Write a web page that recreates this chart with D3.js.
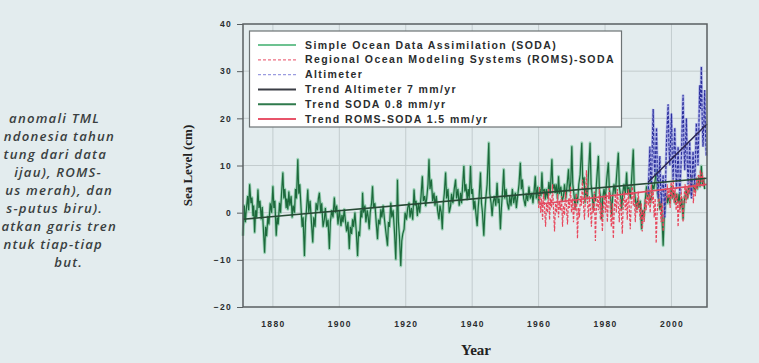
<!DOCTYPE html>
<html>
<head>
<meta charset="utf-8">
<script src="https://cdn.jsdelivr.net/npm/d3@7"></script>
<style>
  html, body { margin: 0; padding: 0; background: #e3ecee; overflow: hidden; }
  svg { display: block; }
</style>
</head>
<body>
<div id="chart"></div>
<script>
// visible part of the caption on the left (the rest is outside the photo)
const captionLines = [
  'anomali TML',
  'ndonesia tahun',
  'tung dari data',
  'ijau), ROMS-',
  'us merah), dan',
  's-putus biru).',
  'atkan garis tren',
  'ntuk tiap-tiap',
  'but.'
];
const captionRight = [100, 115, 107, 102, 113, 103, 117, 103, 83];

const xTicks = [1880, 1900, 1920, 1940, 1960, 1980, 2000];
const yTicks = [-20, -10, 0, 10, 20, 30, 40];

const legendLabels = [
  'Simple Ocean Data Assimilation (SODA)',
  'Regional Ocean Modeling Systems (ROMS)-SODA',
  'Altimeter',
  'Trend Altimeter 7 mm/yr',
  'Trend SODA 0.8 mm/yr',
  'Trend ROMS-SODA 1.5 mm/yr'
];

// [year, sea level cm]
const soda = [
  [1871.0,-4.9],[1871.4,1.5],[1871.7,-2.0],[1872.0,0.7],[1872.4,3.5],[1872.7,0.5],[1873.0,6.0],[1873.4,2.0],[1873.7,3.2],
  [1874.0,-0.7],[1874.2,1.5],[1874.5,-4.2],[1874.8,0.5],[1875.1,-1.0],[1875.5,4.9],[1875.8,1.0],[1876.1,2.5],[1876.5,-1.4],
  [1876.8,1.2],[1877.1,-3.0],[1877.5,-8.5],[1877.8,-3.0],[1878.1,-5.0],[1878.5,-0.7],[1878.8,-2.5],[1879.2,2.0],[1879.6,0.0],
  [1880.0,5.6],[1880.3,1.0],[1880.6,2.5],[1881.0,-4.9],[1881.3,-1.0],[1881.6,-2.5],[1882.0,2.1],[1882.3,0.0],[1882.6,4.0],
  [1883.0,8.5],[1883.3,3.0],[1883.6,5.0],[1884.0,1.0],[1884.2,3.0],[1884.5,0.7],[1884.8,4.5],[1885.1,1.5],[1885.5,3.5],
  [1885.8,-1.0],[1886.1,1.5],[1886.5,0.0],[1886.8,5.0],[1887.1,3.0],[1887.5,11.3],[1887.8,4.0],[1888.1,6.0],[1888.5,0.7],
  [1888.8,-3.0],[1889.1,-1.0],[1889.5,-9.2],[1889.8,-2.0],[1890.1,0.5],[1890.5,4.9],[1890.8,0.0],[1891.2,2.5],[1891.6,-2.0],
  [1892.0,-6.3],[1892.3,-1.0],[1892.7,-3.0],[1893.0,2.0],[1893.4,0.5],[1893.7,3.0],[1894.0,4.2],[1894.4,0.0],[1894.7,2.0],
  [1895.1,-3.0],[1895.5,-1.4],[1895.8,1.0],[1896.2,-3.0],[1896.6,-1.5],[1897.0,-7.7],[1897.3,-2.0],[1897.7,0.5],[1898.1,-1.0],
  [1898.5,3.2],[1898.8,0.0],[1899.2,1.5],[1899.6,-2.5],[1900.0,0.5],[1900.5,-2.8],[1900.8,-0.5],[1901.1,-2.0],[1901.5,0.7],
  [1901.8,-1.5],[1902.2,-4.0],[1902.6,-2.0],[1903.0,-7.7],[1903.3,-3.0],[1903.7,-4.5],[1904.0,-1.4],[1904.3,-3.0],[1904.7,0.0],
  [1905.1,-4.0],[1905.5,-9.2],[1905.8,-4.0],[1906.1,-5.0],[1906.5,0.5],[1906.8,-1.0],[1907.0,4.2],[1907.3,0.0],[1907.7,1.5],
  [1908.0,-2.0],[1908.4,0.5],[1908.7,-1.0],[1909.0,-3.5],[1909.3,0.0],[1909.7,2.0],[1910.0,5.6],[1910.3,1.0],[1910.7,2.0],
  [1911.1,-2.0],[1911.5,-5.6],[1911.8,-1.5],[1912.2,-2.5],[1912.5,0.7],[1912.8,-1.0],[1913.2,1.5],[1913.6,-1.5],[1914.0,-4.0],
  [1914.5,-7.0],[1914.8,-2.0],[1915.1,-3.0],[1915.5,2.1],[1915.8,-1.0],[1916.2,0.5],[1916.6,-4.0],[1917.0,-9.9],[1917.3,-1.0],
  [1917.5,7.0],[1917.8,-2.0],[1918.1,-5.0],[1918.5,-11.3],[1918.8,-6.0],[1919.1,-4.5],[1919.5,-3.5],[1919.8,0.0],[1920.2,-1.5],
  [1920.6,1.0],[1921.0,2.1],[1921.3,-1.0],[1921.7,1.0],[1922.1,-1.5],[1922.5,4.9],[1922.8,1.5],[1923.1,2.5],[1923.5,-0.7],
  [1923.8,2.0],[1924.2,0.0],[1924.6,3.5],[1925.0,7.7],[1925.3,2.5],[1925.7,3.5],[1926.0,1.4],[1926.3,3.0],[1926.7,6.0],
  [1927.0,11.3],[1927.3,5.0],[1927.7,7.0],[1928.1,2.5],[1928.5,4.2],[1928.8,1.5],[1929.2,3.5],[1929.6,0.5],[1930.0,-1.4],
  [1930.3,1.5],[1930.7,0.0],[1931.0,-3.5],[1931.3,2.0],[1931.6,4.0],[1932.0,8.5],[1932.3,3.0],[1932.7,5.0],[1933.1,0.0],
  [1933.5,1.4],[1933.8,4.0],[1934.2,2.0],[1934.6,5.0],[1935.0,7.0],[1935.3,3.0],[1935.7,5.0],[1936.1,1.5],[1936.5,4.2],
  [1936.8,2.0],[1937.1,5.5],[1937.5,9.9],[1937.8,4.5],[1938.1,6.0],[1938.5,2.8],[1938.8,5.0],[1939.1,3.0],[1939.5,9.9],
  [1939.8,4.0],[1940.1,5.0],[1940.5,0.7],[1940.8,2.5],[1941.1,0.0],[1941.5,-2.8],[1941.8,1.0],[1942.1,3.5],[1942.5,8.5],
  [1942.8,2.0],[1943.1,0.0],[1943.5,-4.9],[1943.8,0.0],[1944.1,3.0],[1944.5,6.0],[1945.0,14.8],[1945.3,4.0],[1945.7,2.0],
  [1946.0,-0.7],[1946.3,2.0],[1946.7,3.5],[1947.1,1.5],[1947.5,6.3],[1947.8,2.0],[1948.1,3.0],[1948.5,-3.5],[1948.8,1.0],
  [1949.1,4.0],[1949.5,9.2],[1949.8,3.0],[1950.2,5.0],[1950.6,2.0],[1951.0,0.7],[1951.3,3.5],[1951.7,1.5],[1952.1,5.0],
  [1952.5,2.0],[1953.0,4.2],[1953.3,1.0],[1953.7,3.5],[1954.1,6.0],[1954.5,10.6],[1954.8,5.0],[1955.1,7.0],[1955.5,3.0],
  [1956.0,1.4],[1956.3,4.0],[1956.7,2.5],[1957.1,5.5],[1957.5,3.0],[1958.0,4.2],[1958.3,2.0],[1958.7,5.0],[1959.0,7.7],
  [1959.3,3.0],[1959.7,5.5],[1960.0,2.0],[1960.4,5.0],[1960.7,3.5],[1961.0,8.5],[1961.3,4.0],[1961.7,5.0],[1962.0,2.8],
  [1962.3,5.0],[1962.7,3.0],[1963.1,6.5],[1963.5,4.0],[1964.0,11.3],[1964.3,5.0],[1964.7,6.0],[1965.0,4.2],[1965.3,6.0],
  [1965.7,3.0],[1966.0,7.7],[1966.3,4.0],[1966.7,5.5],[1967.1,2.5],[1967.5,3.5],[1967.8,6.0],[1968.2,3.0],[1968.6,6.0],
  [1969.0,9.2],[1969.3,4.5],[1969.7,6.5],[1970.0,14.1],[1970.3,6.0],[1970.7,3.5],[1971.0,0.7],[1971.3,4.0],[1971.7,2.0],
  [1972.1,6.0],[1972.5,8.0],[1973.0,14.8],[1973.3,6.0],[1973.7,7.5],[1974.0,2.1],[1974.3,5.0],[1974.7,3.0],[1975.0,8.0],
  [1975.5,14.8],[1975.8,6.0],[1976.1,4.0],[1976.5,0.7],[1976.8,4.0],[1977.1,2.5],[1977.5,7.0],[1978.0,12.0],[1978.3,5.0],
  [1978.7,3.0],[1979.0,-1.4],[1979.3,3.0],[1979.7,5.0],[1980.1,3.0],[1980.5,7.0],[1981.0,10.6],[1981.3,5.0],[1981.7,3.0],
  [1982.0,-0.7],[1982.3,3.5],[1982.7,6.0],[1983.1,4.0],[1983.5,8.0],[1984.0,12.7],[1984.3,5.5],[1984.7,3.5],[1985.0,0.7],
  [1985.3,4.0],[1985.7,6.0],[1986.1,4.0],[1986.5,8.5],[1986.8,4.0],[1987.2,5.5],[1987.6,3.0],[1988.0,7.0],[1988.5,13.4],
  [1988.8,5.0],[1989.1,3.0],[1989.5,0.7],[1989.8,3.0],[1990.2,1.0],[1990.6,2.5],[1991.0,-3.5],[1991.3,0.5],[1991.7,-1.0],
  [1992.1,2.5],[1992.5,5.6],[1992.8,3.0],[1993.2,5.0],[1993.6,2.0],[1994.0,3.5],[1994.3,6.0],[1994.7,5.0],[1995.1,7.0],
  [1995.5,9.2],[1995.8,4.0],[1996.2,3.0],[1996.5,0.7],[1996.8,2.5],[1997.1,0.0],[1997.5,-7.0],[1997.8,-1.0],[1998.1,1.5],
  [1998.5,4.2],[1998.8,2.0],[1999.1,3.5],[1999.5,2.0],[2000.0,5.6],[2000.3,3.0],[2000.7,4.5],[2001.1,2.0],[2001.5,4.0],
  [2002.0,2.1],[2002.3,4.0],[2002.7,1.0],[2003.1,3.0],[2003.5,-1.4],[2003.8,2.0],[2004.1,3.5],[2004.5,4.9],[2004.8,3.0],
  [2005.2,5.5],[2005.6,4.0],[2006.0,7.7],[2006.3,4.5],[2006.7,6.0],[2007.1,4.5],[2007.5,6.3],[2007.8,5.0],[2008.2,7.5],
  [2008.6,5.5],[2009.0,9.9],[2009.3,6.0],[2009.7,7.0],[2010.0,5.0]
];

const romsSoda = [
  [1960.0,1.0],[1960.3,5.5],[1960.6,0.0],[1960.9,3.0],[1961.2,-1.5],[1961.5,4.5],[1961.8,1.0],[1962.1,-3.0],[1962.4,2.0],
  [1962.7,0.0],[1963.0,5.0],[1963.3,-1.5],[1963.6,3.0],[1963.9,1.0],[1964.2,6.0],[1964.5,0.5],[1964.8,-4.0],[1965.1,2.0],
  [1965.4,0.0],[1965.7,4.0],[1966.0,-1.0],[1966.3,2.5],[1966.6,0.5],[1966.9,3.5],[1967.2,-3.0],[1967.5,1.5],[1967.8,-0.5],
  [1968.1,4.5],[1968.4,1.0],[1968.7,-2.5],[1969.0,3.0],[1969.3,1.0],[1969.6,5.5],[1969.9,0.0],[1970.2,3.0],[1970.5,-2.0],
  [1970.8,2.0],[1971.1,0.5],[1971.4,4.0],[1971.7,-5.5],[1972.0,1.0],[1972.3,-1.0],[1972.6,3.5],[1972.9,1.5],[1973.2,7.0],
  [1973.5,2.0],[1973.8,-1.5],[1974.1,3.0],[1974.4,9.0],[1974.7,2.5],[1975.0,-1.0],[1975.3,3.5],[1975.6,1.0],[1975.9,-3.0],
  [1976.2,2.0],[1976.5,0.0],[1976.8,4.5],[1977.1,-6.0],[1977.4,1.0],[1977.7,3.0],[1978.0,0.5],[1978.3,5.0],[1978.6,-1.5],
  [1978.9,2.0],[1979.2,-4.0],[1979.5,1.5],[1979.8,3.5],[1980.1,0.0],[1980.4,4.0],[1980.7,-2.0],[1981.0,2.5],[1981.3,5.5],
  [1981.6,0.5],[1981.9,-3.0],[1982.2,2.0],[1982.5,-5.5],[1982.8,1.0],[1983.1,3.5],[1983.4,0.0],[1983.7,5.0],[1984.0,1.5],
  [1984.3,-2.0],[1984.6,3.0],[1984.9,0.5],[1985.2,-4.5],[1985.5,2.0],[1985.8,4.5],[1986.1,0.5],[1986.4,3.0],[1986.7,-1.5],
  [1987.0,5.0],[1987.3,1.0],[1987.6,-3.5],[1987.9,2.5],[1988.2,6.0],[1988.5,1.5],[1988.8,4.0],[1989.1,-2.0],[1989.4,2.0],
  [1989.7,0.0],[1990.0,4.5],[1990.3,1.0],[1990.6,-1.5],[1990.9,2.0],[1991.2,-4.0],[1991.5,0.5],[1991.8,-2.0],[1992.1,3.0],
  [1992.4,0.5],[1992.7,5.0],[1993.0,1.5],[1993.3,4.0],[1993.6,0.0],[1993.9,6.0],[1994.2,2.0],[1994.5,4.5],[1994.8,-1.0],
  [1995.1,3.0],[1995.4,-6.5],[1995.7,0.0],[1996.0,2.5],[1996.3,5.0],[1996.6,1.0],[1996.9,-2.0],[1997.2,3.0],[1997.5,-4.0],
  [1997.8,1.0],[1998.1,4.5],[1998.4,2.0],[1998.7,6.0],[1999.0,3.0],[1999.3,5.0],[1999.6,1.0],[1999.9,6.5],[2000.2,3.0],
  [2000.5,7.0],[2000.8,2.0],[2001.1,5.0],[2001.4,0.5],[2001.7,4.0],[2002.0,-3.0],[2002.3,2.5],[2002.6,0.0],[2002.9,5.0],
  [2003.2,1.5],[2003.5,-2.0],[2003.8,3.5],[2004.1,6.0],[2004.4,2.0],[2004.7,5.5],[2005.0,3.0],[2005.3,7.0],[2005.6,4.0],
  [2006.0,8.0],[2006.3,5.0],[2006.6,2.0],[2006.9,6.5],[2007.2,3.5],[2007.5,7.5],[2007.8,5.0],[2008.1,8.0],[2008.4,6.0],
  [2008.7,9.0],[2009.0,6.5],[2009.3,8.5],[2009.6,5.5],[2009.9,7.5]
];

const altimeter = [
  [1993.0,4.0],[1993.25,9.0],[1993.5,14.0],[1993.75,7.0],[1994.0,6.0],[1994.25,15.0],[1994.5,22.0],[1994.75,12.0],
  [1995.0,8.0],[1995.25,13.0],[1995.5,18.0],[1995.75,9.0],[1996.0,3.0],[1996.25,8.0],[1996.5,12.0],[1996.75,5.0],
  [1997.0,2.0],[1997.25,6.0],[1997.5,8.0],[1997.75,3.0],[1998.0,-1.0],[1998.25,7.0],[1998.5,15.0],[1998.75,19.0],
  [1999.0,23.0],[1999.25,14.0],[1999.5,10.0],[1999.75,16.0],[2000.0,21.0],[2000.25,12.0],[2000.5,7.0],[2000.75,13.0],
  [2001.0,18.0],[2001.25,10.0],[2001.5,5.0],[2001.75,9.0],[2002.0,14.0],[2002.25,8.0],[2002.5,4.0],[2002.75,8.0],
  [2003.0,12.0],[2003.25,19.0],[2003.5,25.0],[2003.75,14.0],[2004.0,9.0],[2004.25,15.0],[2004.5,20.0],[2004.75,11.0],
  [2005.0,6.0],[2005.25,10.0],[2005.5,15.0],[2005.75,8.0],[2006.0,3.0],[2006.25,8.0],[2006.5,13.0],[2006.75,9.0],
  [2007.0,6.0],[2007.25,12.0],[2007.5,19.0],[2007.75,14.0],[2008.0,10.0],[2008.25,18.0],[2008.5,27.0],[2008.75,22.0],
  [2009.0,31.0],[2009.25,20.0],[2009.5,14.0],[2009.75,19.0],[2010.0,26.0],[2010.25,17.0],[2010.5,12.0]
];

const trendSoda = [[1871, -1.4], [2010.7, 7.3]];
const trendRoms = [[1960, 1.8], [2010.7, 6.0]];
const trendAlt = [[1993, 6.5], [2010.7, 18.8]];

const width = 759;
const height = 363;
const margin = {top: 24, right: 52, bottom: 56, left: 243};

const svg = d3.select('#chart').append('svg')
  .attr('width', width)
  .attr('height', height);

svg.append('rect')
  .attr('width', width)
  .attr('height', height)
  .attr('fill', '#e3ecee');

// caption text
svg.append('g').selectAll('text')
  .data(captionLines)
  .join('text')
  .attr('x', (d, i) => captionRight[i])
  .attr('y', (d, i) => 123 + i * 18)
  .attr('text-anchor', 'end')
  .attr('font-family', '"Open Sans", sans-serif')
  .attr('font-style', 'italic')
  .attr('font-weight', 600)
  .attr('font-size', 13.2)
  .attr('letter-spacing', 1.2)
  .attr('fill', '#3a3f41')
  .text(d => d);

const x = d3.scaleLinear()
  .domain([1871, 2010.7])
  .range([margin.left, width - margin.right]);

const y = d3.scaleLinear()
  .domain([-20, 40])
  .range([height - margin.bottom, margin.top]);

// grid
const grid = svg.append('g').attr('stroke', '#c3ccce').attr('stroke-width', 1);
grid.selectAll('.vg')
  .data(xTicks)
  .join('line')
  .attr('x1', d => x(d)).attr('x2', d => x(d))
  .attr('y1', y(-20)).attr('y2', y(40));
grid.selectAll('.hg')
  .data(yTicks.slice(1, -1))
  .join('line')
  .attr('x1', x.range()[0]).attr('x2', x.range()[1])
  .attr('y1', d => y(d)).attr('y2', d => y(d));

const line = d3.line()
  .x(d => x(d[0]))
  .y(d => y(d[1]));

const plot = svg.append('g');

// SODA: light halo + dark core
plot.append('path')
  .datum(soda)
  .attr('fill', 'none')
  .attr('stroke', '#62c08a')
  .attr('stroke-width', 3)
  .attr('stroke-opacity', 0.55)
  .attr('stroke-linejoin', 'round')
  .attr('d', line);
plot.append('path')
  .datum(soda)
  .attr('fill', 'none')
  .attr('stroke', '#1d6a3c')
  .attr('stroke-width', 1.2)
  .attr('d', line);

plot.append('path')
  .datum(romsSoda)
  .attr('fill', 'none')
  .attr('stroke', '#e8475c')
  .attr('stroke-width', 1.2)
  .attr('stroke-dasharray', '3,1.5')
  .attr('d', line);

plot.append('path')
  .datum(altimeter)
  .attr('fill', 'none')
  .attr('stroke', '#8a8de0')
  .attr('stroke-width', 2.6)
  .attr('stroke-opacity', 0.65)
  .attr('d', line);
plot.append('path')
  .datum(altimeter)
  .attr('fill', 'none')
  .attr('stroke', '#2b2f9c')
  .attr('stroke-width', 1.1)
  .attr('stroke-dasharray', '3,1.5')
  .attr('d', line);

plot.append('path')
  .datum(trendSoda)
  .attr('stroke', '#274a35')
  .attr('stroke-width', 1.6)
  .attr('d', line);
plot.append('path')
  .datum(trendRoms)
  .attr('stroke', '#e24a60')
  .attr('stroke-width', 1.6)
  .attr('d', line);
plot.append('path')
  .datum(trendAlt)
  .attr('stroke', '#2a2550')
  .attr('stroke-width', 1.6)
  .attr('d', line);

// frame
svg.append('rect')
  .attr('x', x.range()[0])
  .attr('y', y(40))
  .attr('width', x.range()[1] - x.range()[0])
  .attr('height', y(-20) - y(40))
  .attr('fill', 'none')
  .attr('stroke', '#5a5f61')
  .attr('stroke-width', 1.5);

// axes
const tickFont = g => g
  .attr('font-family', '"Liberation Sans", Arial, sans-serif')
  .attr('font-weight', 'bold')
  .attr('font-size', 8.5)
  .attr('letter-spacing', 1.3)
  .attr('fill', '#2a2d2e');

const yAxis = svg.append('g')
  .attr('transform', `translate(${x.range()[0]},0)`)
  .call(d3.axisLeft(y).tickValues(yTicks).tickSize(6).tickPadding(5));
yAxis.select('.domain').remove();
yAxis.selectAll('line').attr('stroke', '#5a5f61');
yAxis.selectAll('text').call(tickFont);
yAxis.attr('font-family', null).attr('font-size', null);

const xAxis = svg.append('g')
  .attr('transform', `translate(0,${y(-20)})`)
  .call(d3.axisBottom(x).tickValues(xTicks).tickFormat(d3.format('d')).tickSize(0).tickPadding(14));
xAxis.select('.domain').remove();
xAxis.selectAll('text').call(tickFont);
xAxis.attr('font-family', null).attr('font-size', null);

// axis titles
svg.append('text')
  .attr('transform', `translate(192,${y(10)}) rotate(-90)`)
  .attr('text-anchor', 'middle')
  .attr('font-family', '"Liberation Serif", "Times New Roman", serif')
  .attr('font-weight', 'bold')
  .attr('font-size', 13)
  .attr('fill', '#222')
  .text('Sea Level (cm)');

svg.append('text')
  .attr('x', 476)
  .attr('y', 355)
  .attr('text-anchor', 'middle')
  .attr('font-family', '"Liberation Serif", "Times New Roman", serif')
  .attr('font-weight', 'bold')
  .attr('font-size', 15)
  .attr('fill', '#222')
  .text('Year');

// legend
const legendStyles = [
  {stroke: '#3dae6c', width: 1.3, dash: null},
  {stroke: '#ee6f82', width: 1.3, dash: '3,2'},
  {stroke: '#9a9ce0', width: 1.3, dash: '3,2'},
  {stroke: '#3a3d45', width: 2, dash: null},
  {stroke: '#2f7a4c', width: 2, dash: null},
  {stroke: '#e8546a', width: 2, dash: null}
];

const legend = svg.append('g');
legend.append('rect')
  .attr('x', 249.5)
  .attr('y', 31)
  .attr('width', 372)
  .attr('height', 96)
  .attr('fill', '#fff')
  .attr('stroke', '#6d7375')
  .attr('stroke-width', 1.2);

const rows = legend.selectAll('g.row')
  .data(legendLabels)
  .join('g')
  .attr('class', 'row')
  .attr('transform', (d, i) => `translate(0,${45 + i * 14.8})`);

rows.append('line')
  .attr('x1', 258).attr('x2', 296)
  .attr('stroke', (d, i) => legendStyles[i].stroke)
  .attr('stroke-width', (d, i) => legendStyles[i].width)
  .attr('stroke-dasharray', (d, i) => legendStyles[i].dash);

rows.append('text')
  .attr('x', 305)
  .attr('dy', '0.35em')
  .attr('font-family', '"Liberation Sans", Arial, sans-serif')
  .attr('font-weight', 'bold')
  .attr('font-size', 10.5)
  .attr('letter-spacing', 1.4)
  .attr('fill', '#2a2d2e')
  .text(d => d);
</script>
</body>
</html>
